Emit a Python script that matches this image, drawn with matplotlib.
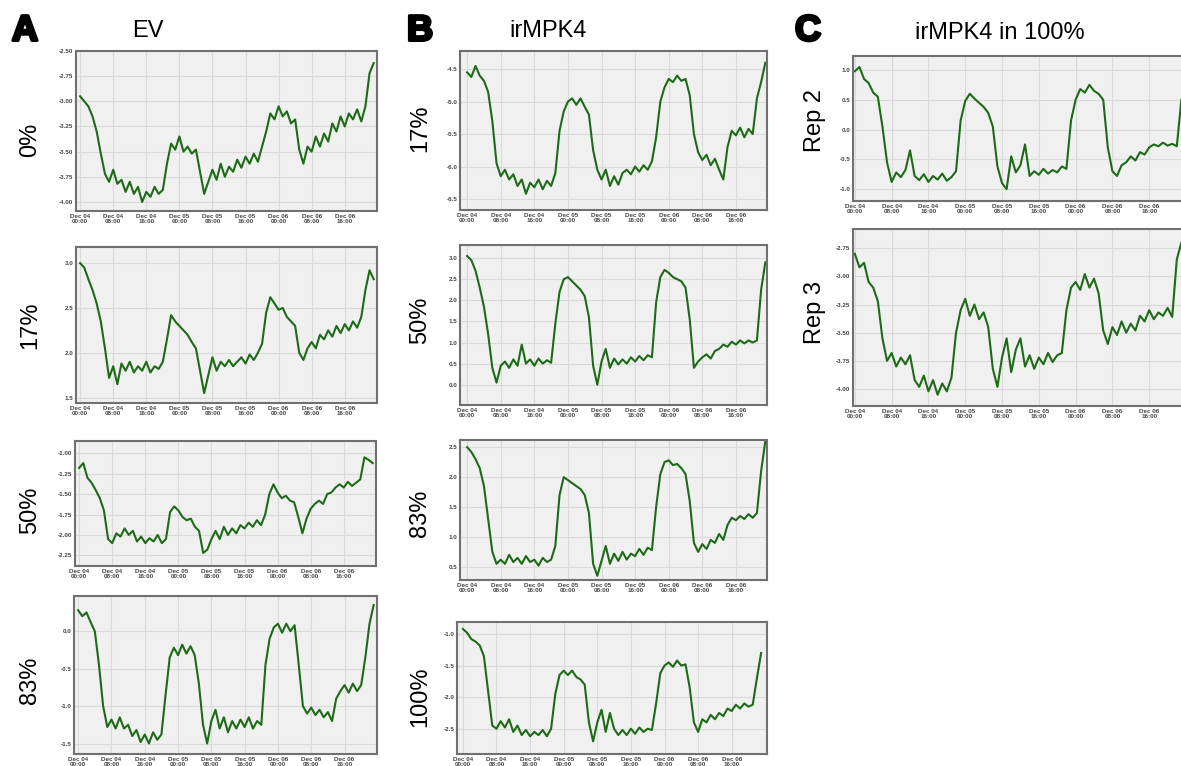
import numpy as np
import matplotlib
matplotlib.use("Agg")
import matplotlib.pyplot as plt
import matplotlib.patheffects as pe

plt.rcParams['font.family'] = ['Liberation Sans', 'DejaVu Sans']

# --- data: hourly readings, hour 0 = Dec 04 00:00 ---
tick_hours = [0, 8, 16, 24, 32, 40, 48, 56, 64]
tick_labels = ["Dec 04\n00:00", "Dec 04\n08:00", "Dec 04\n16:00",
               "Dec 05\n00:00", "Dec 05\n08:00", "Dec 05\n16:00",
               "Dec 06\n00:00", "Dec 06\n08:00", "Dec 06\n16:00"]

ev_0 = [-2.95, -3.00, -3.05, -3.15, -3.30, -3.52, -3.72, -3.80, -3.68, -3.82, -3.78, -3.90,
        -3.80, -3.92, -3.85, -4.00, -3.90, -3.95, -3.85, -3.92, -3.88, -3.62, -3.42, -3.48,
        -3.35, -3.50, -3.45, -3.52, -3.48, -3.70, -3.92, -3.80, -3.68, -3.78, -3.62, -3.75,
        -3.65, -3.70, -3.58, -3.66, -3.55, -3.62, -3.52, -3.60, -3.45, -3.30, -3.12, -3.18,
        -3.05, -3.15, -3.10, -3.22, -3.18, -3.48, -3.62, -3.45, -3.50, -3.35, -3.45, -3.32,
        -3.40, -3.22, -3.30, -3.15, -3.25, -3.12, -3.18, -3.08, -3.20, -3.05, -2.72, -2.62]
ev_17 = [3.00, 2.95, 2.82, 2.70, 2.55, 2.35, 2.05, 1.72, 1.85, 1.65, 1.88, 1.80,
         1.90, 1.78, 1.85, 1.80, 1.90, 1.78, 1.85, 1.82, 1.90, 2.15, 2.42, 2.35,
         2.30, 2.25, 2.20, 2.12, 2.05, 1.80, 1.55, 1.75, 1.95, 1.80, 1.90, 1.85,
         1.92, 1.85, 1.90, 1.95, 1.88, 1.98, 1.92, 2.00, 2.10, 2.45, 2.62, 2.55,
         2.48, 2.50, 2.40, 2.35, 2.30, 2.00, 1.92, 2.05, 2.12, 2.05, 2.20, 2.15,
         2.25, 2.18, 2.30, 2.22, 2.32, 2.25, 2.35, 2.28, 2.40, 2.70, 2.92, 2.82]
ev_50 = [-1.18, -1.12, -1.30, -1.36, -1.45, -1.55, -1.70, -2.05, -2.10, -1.98, -2.02, -1.92,
         -2.00, -1.95, -2.08, -2.02, -2.10, -2.04, -2.08, -2.00, -2.10, -2.05, -1.72, -1.65,
         -1.70, -1.78, -1.82, -1.80, -1.90, -1.95, -2.22, -2.18, -2.05, -1.95, -2.05, -1.90,
         -2.00, -1.92, -1.98, -1.88, -1.92, -1.85, -1.90, -1.82, -1.88, -1.75, -1.50, -1.38,
         -1.48, -1.55, -1.52, -1.58, -1.60, -1.78, -1.98, -1.80, -1.68, -1.62, -1.58, -1.62,
         -1.50, -1.48, -1.42, -1.38, -1.42, -1.35, -1.40, -1.36, -1.32, -1.05, -1.08, -1.12]
ev_83 = [0.28, 0.20, 0.25, 0.12, 0.00, -0.45, -1.00, -1.28, -1.18, -1.30, -1.15, -1.30,
         -1.25, -1.40, -1.32, -1.48, -1.38, -1.50, -1.35, -1.45, -1.38, -0.85, -0.35, -0.22,
         -0.32, -0.18, -0.30, -0.20, -0.32, -0.70, -1.25, -1.50, -1.20, -1.05, -1.30, -1.15,
         -1.35, -1.20, -1.30, -1.18, -1.28, -1.15, -1.30, -1.20, -1.25, -0.45, -0.10, 0.05,
         0.10, -0.02, 0.10, 0.00, 0.08, -0.45, -1.00, -1.10, -1.02, -1.12, -1.05, -1.15,
         -1.08, -1.20, -0.90, -0.80, -0.72, -0.82, -0.70, -0.80, -0.72, -0.35, 0.10, 0.35]

ir_17 = [-4.55, -4.62, -4.45, -4.60, -4.68, -4.85, -5.30, -5.95, -6.15, -6.05, -6.20, -6.12,
         -6.30, -6.20, -6.42, -6.25, -6.32, -6.20, -6.35, -6.22, -6.30, -6.10, -5.45, -5.15,
         -5.00, -4.95, -5.05, -4.95, -5.08, -5.20, -5.75, -6.05, -6.20, -6.05, -6.30, -6.15,
         -6.28, -6.10, -6.05, -6.12, -6.00, -6.08, -5.98, -6.05, -5.92, -5.55, -5.00, -4.78,
         -4.65, -4.70, -4.60, -4.68, -4.65, -4.90, -5.50, -5.78, -5.90, -5.82, -5.98, -5.88,
         -6.05, -6.20, -5.70, -5.45, -5.52, -5.40, -5.55, -5.42, -5.50, -4.95, -4.70, -4.40]
ir_50 = [3.05, 2.95, 2.70, 2.30, 1.85, 1.20, 0.40, 0.05, 0.45, 0.55, 0.40, 0.60,
         0.45, 0.95, 0.50, 0.60, 0.45, 0.62, 0.50, 0.58, 0.52, 1.45, 2.20, 2.50,
         2.55, 2.45, 2.35, 2.25, 2.10, 1.60, 0.45, 0.00, 0.55, 0.85, 0.40, 0.62,
         0.48, 0.60, 0.50, 0.65, 0.55, 0.68, 0.58, 0.70, 0.65, 1.95, 2.55, 2.72,
         2.65, 2.55, 2.50, 2.45, 2.30, 1.55, 0.40, 0.55, 0.65, 0.72, 0.62, 0.80,
         0.85, 0.95, 0.90, 1.02, 0.95, 1.05, 0.98, 1.05, 1.00, 1.05, 2.25, 2.90]
ir_83 = [2.50, 2.42, 2.30, 2.15, 1.85, 1.30, 0.75, 0.55, 0.62, 0.55, 0.70, 0.58,
         0.65, 0.55, 0.68, 0.58, 0.62, 0.52, 0.65, 0.58, 0.62, 0.85, 1.70, 2.00,
         1.95, 1.90, 1.85, 1.80, 1.70, 1.40, 0.55, 0.35, 0.60, 0.85, 0.55, 0.72,
         0.60, 0.75, 0.62, 0.72, 0.68, 0.80, 0.70, 0.82, 0.78, 1.50, 2.05, 2.25,
         2.28, 2.20, 2.22, 2.15, 2.05, 1.60, 0.90, 0.75, 0.88, 0.80, 0.95, 0.90,
         1.05, 0.95, 1.20, 1.32, 1.28, 1.35, 1.30, 1.38, 1.32, 1.40, 2.10, 2.60]
ir_100 = [-0.92, -0.98, -1.08, -1.12, -1.18, -1.35, -1.90, -2.45, -2.50, -2.38, -2.48, -2.35,
          -2.55, -2.45, -2.60, -2.52, -2.62, -2.55, -2.60, -2.52, -2.62, -2.50, -1.95, -1.65,
          -1.58, -1.65, -1.58, -1.68, -1.72, -1.80, -2.40, -2.70, -2.40, -2.20, -2.55, -2.25,
          -2.50, -2.60, -2.52, -2.60, -2.50, -2.58, -2.48, -2.55, -2.50, -2.52, -2.10, -1.62,
          -1.50, -1.45, -1.52, -1.42, -1.50, -1.48, -1.85, -2.40, -2.55, -2.35, -2.40, -2.28,
          -2.35, -2.25, -2.30, -2.18, -2.22, -2.12, -2.18, -2.10, -2.15, -2.12, -1.70, -1.30]

rep_2 = [0.98, 1.05, 0.85, 0.78, 0.62, 0.55, 0.05, -0.55, -0.88, -0.72, -0.80, -0.68,
         -0.35, -0.78, -0.85, -0.75, -0.88, -0.78, -0.84, -0.74, -0.86, -0.80, -0.70, 0.15,
         0.48, 0.60, 0.52, 0.45, 0.38, 0.28, 0.05, -0.62, -0.90, -1.00, -0.45, -0.72,
         -0.60, -0.25, -0.78, -0.70, -0.76, -0.66, -0.74, -0.68, -0.72, -0.62, -0.66, 0.15,
         0.50, 0.68, 0.62, 0.75, 0.65, 0.60, 0.50, -0.30, -0.70, -0.78, -0.60, -0.55,
         -0.45, -0.52, -0.38, -0.42, -0.30, -0.25, -0.28, -0.22, -0.27, -0.24, -0.28, 0.50]
rep_3 = [-2.80, -2.92, -2.88, -3.05, -3.10, -3.22, -3.55, -3.75, -3.68, -3.80, -3.72, -3.78,
         -3.70, -3.92, -3.98, -3.88, -4.02, -3.92, -4.05, -3.95, -4.02, -3.90, -3.50, -3.30,
         -3.20, -3.35, -3.25, -3.38, -3.32, -3.45, -3.82, -3.98, -3.72, -3.55, -3.85, -3.65,
         -3.55, -3.80, -3.70, -3.82, -3.72, -3.78, -3.68, -3.76, -3.70, -3.68, -3.30, -3.10,
         -3.05, -3.12, -2.98, -3.10, -3.02, -3.15, -3.48, -3.60, -3.45, -3.52, -3.40, -3.50,
         -3.42, -3.48, -3.35, -3.40, -3.30, -3.38, -3.32, -3.35, -3.28, -3.36, -2.85, -2.70]

ev_0_ticks = [-2.50, -2.75, -3.00, -3.25, -3.50, -3.75, -4.00]
ev_17_ticks = [3.0, 2.5, 2.0, 1.5]
ev_50_ticks = [-1.00, -1.25, -1.50, -1.75, -2.00, -2.25]
ev_83_ticks = [0.0, -0.5, -1.0, -1.5]
ir_17_ticks = [-4.5, -5.0, -5.5, -6.0, -6.5]
ir_50_ticks = [3.0, 2.5, 2.0, 1.5, 1.0, 0.5, 0.0]
ir_83_ticks = [2.5, 2.0, 1.5, 1.0, 0.5]
ir_100_ticks = [-1.0, -1.5, -2.0, -2.5]
rep_2_ticks = [1.0, 0.5, 0.0, -0.5, -1.0]
rep_3_ticks = [-2.75, -3.00, -3.25, -3.50, -3.75, -4.00]

W, H = 1181, 766
fig = plt.figure(figsize=(W / 100, H / 100), dpi=100)

GREEN = '#1d6b16'


def panel(px, vals, yticks, ylim, xlim, fmt):
    # px = (left, top, right, bottom) in pixels
    l, t, r, b = px
    ax = fig.add_axes([l / W, 1 - b / H, (r - l) / W, (b - t) / H])
    ax.set_facecolor('#f0f0f0')
    ax.plot(np.arange(len(vals)), vals, color=GREEN, lw=1.5)
    ax.set_xlim(*xlim)
    ax.set_ylim(*ylim)
    ax.set_xticks(tick_hours)
    ax.set_xticklabels(tick_labels)
    ax.set_yticks(yticks)
    ax.set_yticklabels([fmt.format(v) for v in yticks])
    ax.grid(True, color='#dadada', lw=0.8)
    ax.set_axisbelow(True)
    ax.tick_params(length=0, pad=2, labelsize=4.5, labelcolor='#444444')
    for lab in ax.get_xticklabels() + ax.get_yticklabels():
        lab.set_fontweight('bold')
        lab.set_linespacing(1.0)
    for s in ax.spines.values():
        s.set_color('#707070')
        s.set_linewidth(1.5)
    return ax


# column A: EV
panel((76, 51, 377, 211), ev_0, ev_0_ticks, (-4.09, -2.50), (-1.0, 71.8), "{:.2f}")
panel((76, 247, 377, 403), ev_17, ev_17_ticks, (1.44, 3.18), (-1.0, 71.8), "{:.1f}")
panel((75, 441, 376, 566), ev_50, ev_50_ticks, (-2.38, -0.85), (-1.0, 71.8), "{:.2f}")
panel((74, 596, 377, 754), ev_83, ev_83_ticks, (-1.64, 0.47), (-1.0, 71.8), "{:.1f}")

# column B: irMPK4
panel((460, 51, 767, 210), ir_17, ir_17_ticks, (-6.67, -4.22), (-1.7, 71.4), "{:.1f}")
panel((460, 245, 767, 405), ir_50, ir_50_ticks, (-0.48, 3.31), (-1.7, 71.4), "{:.1f}")
panel((460, 440, 767, 580), ir_83, ir_83_ticks, (0.28, 2.62), (-1.7, 71.4), "{:.1f}")
panel((457, 622, 767, 754), ir_100, ir_100_ticks, (-2.90, -0.81), (-1.4, 72.4), "{:.1f}")

# column C: irMPK4 in 100%
panel((853, 56, 1186, 201), rep_2, rep_2_ticks, (-1.20, 1.235), (-0.4, 72.0), "{:.1f}")
panel((853, 229, 1186, 406), rep_3, rep_3_ticks, (-4.15, -2.58), (-0.4, 72.0), "{:.2f}")


def ftext(x, y, s, **kw):
    return fig.text(x / W, 1 - y / H, s, ha='center', va='center', **kw)


for x, letter in [(25, 'A'), (420, 'B'), (808, 'C')]:
    t = ftext(x, 31, letter, fontsize=26, fontweight='bold')
    t.set_path_effects([pe.withStroke(linewidth=2.2, foreground='black')])
ftext(148, 31, 'EV', fontsize=17)
ftext(548, 31, 'irMPK4', fontsize=17)
ftext(1000, 33, 'irMPK4 in 100%', fontsize=17)

for x, y, s in [(30, 140, '0%'), (30, 325, '17%'), (30, 510, '50%'), (30, 680, '83%'),
                (420, 128, '17%'), (420, 320, '50%'), (420, 513, '83%'), (420, 697, '100%'),
                (815, 120, 'Rep 2'), (815, 313, 'Rep 3')]:
    ftext(x, y, s, fontsize=17, rotation=90)

fig.savefig('out.png', dpi=100)
